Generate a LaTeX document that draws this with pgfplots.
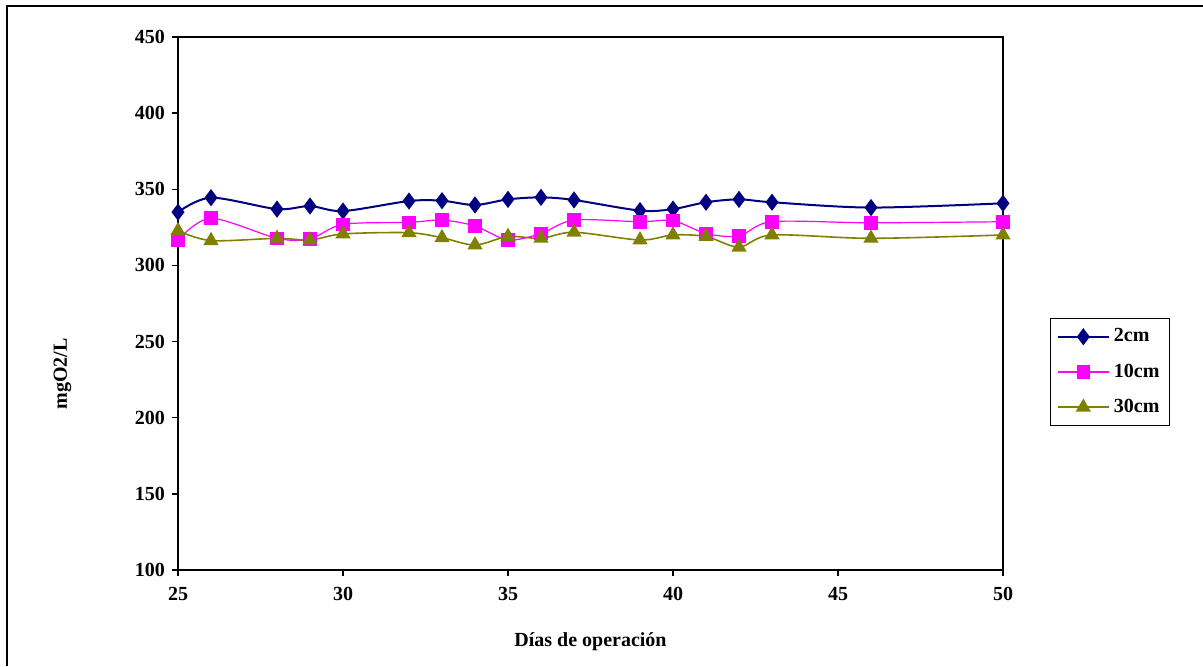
\documentclass[border=0pt]{standalone}
\usepackage{fontspec}
\setmainfont{Liberation Serif}
\usepackage{pgfplots}
\pgfplotsset{compat=1.18}
\definecolor{c2}{HTML}{000080}
\definecolor{c10}{HTML}{FF00FF}
\definecolor{c30}{HTML}{808000}
\begin{document}
\begin{tikzpicture}
\path[use as bounding box] (0,0) rectangle (601.5pt,333pt);
\draw[line width=1pt] (3.25pt,0) -- (3.25pt,330pt) -- (601.5pt,330pt);
\begin{axis}[
  at={(89pt,48pt)}, anchor=south west,
  scale only axis, width=412.5pt, height=266.5pt,
  xmin=25, xmax=50, ymin=100, ymax=450,
  xtick={25,30,...,50}, ytick={100,150,...,450},
  tick align=outside, xtick pos=bottom, ytick pos=left,
  major tick length=3pt,
  tick style={black, line width=0.7pt},
  axis line style={black, line width=0.7pt},
  /pgf/number format/assume math mode=true,
  ticklabel style={font=\bfseries},
  xticklabel style={yshift=-2pt},
  xlabel={Días de operación},
  ylabel={mgO2/L},
  label style={font=\bfseries},
  xlabel style={at={(axis description cs:0.5,0)}, anchor=center, yshift=-36pt},
  ylabel style={at={(axis description cs:-0.14,0.368)}, anchor=center},
  legend style={at={(1.057,0.473)}, anchor=north west, draw=black, line width=0.7pt,
    font=\bfseries, row sep=5.5pt, inner xsep=3pt, inner ysep=3pt, cells={anchor=west}},
  legend image code/.code={\draw[mark repeat=2,mark phase=2,#1] plot coordinates {(0cm,0cm) (0.45cm,0cm) (0.9cm,0cm)};},
  legend cell align=left,
]
\addplot[c2, line width=1pt, smooth, tension=0.5, mark=diamond*, mark size=3.5pt, mark options={solid, fill=c2}]
coordinates {(25,335) (26,344.5) (28,337) (29,339) (30,335.7) (32,342.3) (33,342.5) (34,339.7) (35,343.4) (36,344.7) (37,343) (39,336) (40,337) (41,341.5) (42,343.4) (43,341.5) (46,338) (50,340.8)};
\addlegendentry{2cm}
\addplot[c10, line width=0.6pt, smooth, tension=0.5, mark=square*, mark size=3.1pt, mark options={solid, fill=c10}]
coordinates {(25,316.7) (26,331) (28,317.8) (29,317.4) (30,327) (32,328.3) (33,329.8) (34,325.9) (35,316.7) (36,321) (37,329.8) (39,328.7) (40,329.4) (41,321) (42,319.3) (43,328.7) (46,328) (50,328.7)};
\addlegendentry{10cm}
\addplot[c30, line width=0.8pt, smooth, tension=0.5, mark=triangle*, mark size=3.6pt, mark options={solid, fill=c30}]
coordinates {(25,322.8) (26,316.3) (28,317.8) (29,316.7) (30,320.7) (32,321.5) (33,318.2) (34,313.4) (35,319) (36,317.8) (37,321.8) (39,316.7) (40,320) (41,319) (42,312) (43,320) (46,317.8) (50,320)};
\addlegendentry{30cm}
\end{axis}
\end{tikzpicture}
\end{document}
